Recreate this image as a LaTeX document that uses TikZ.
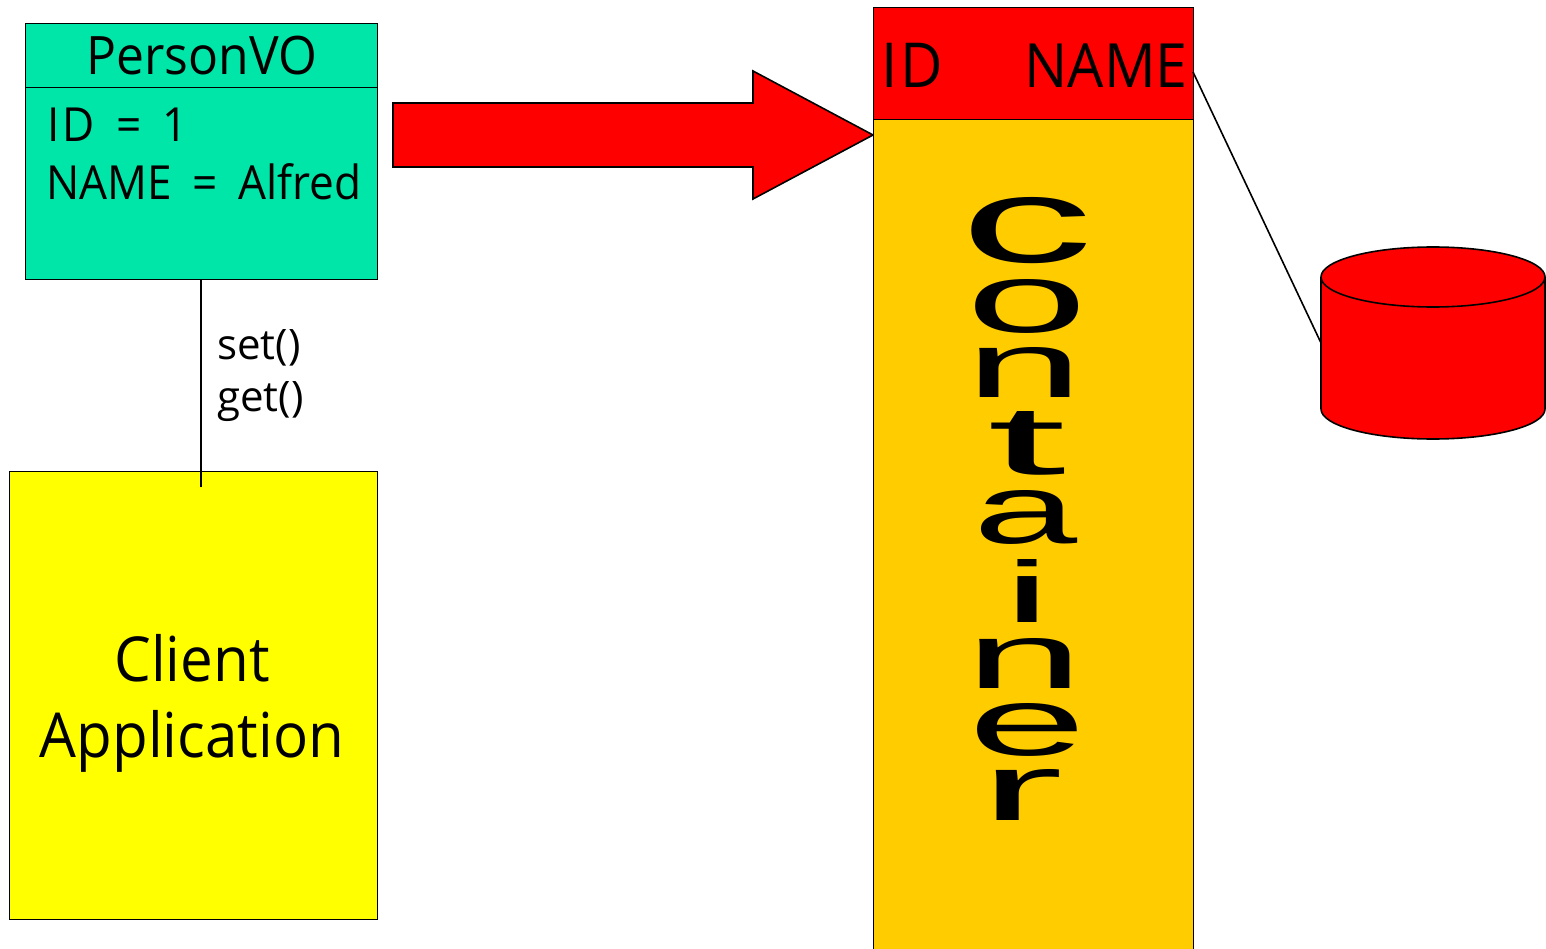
\documentclass[tikz,border=0pt]{standalone}
\usepackage{graphicx}
\usepackage{fontspec}
\setmainfont[FakeStretch=0.94]{Open Sans}
\newfontfamily\plainfont{Open Sans}
\newfontfamily\letterfont{Liberation Sans}
\definecolor{voteal}{RGB}{0,230,168}
\definecolor{contorange}{RGB}{255,204,0}
\definecolor{pureyellow}{RGB}{255,255,0}
\definecolor{purered}{RGB}{255,0,0}
\tikzset{
  x=1pt,y=-1pt,
  boxn/.style={draw=black,line width=1.6pt,inner sep=0pt,anchor=north west},
  lbl/.style={inner sep=0pt,anchor=base west,text=black},
  wire/.style={draw=black,line width=1.6pt},
  glyph/.style={inner sep=0pt,anchor=north west}
}
\newcommand{\bigletter}[6]{\node[glyph] (#1) at (#3,#4) {\resizebox{#5pt}{#6pt}{\letterfont #2}};}
\begin{document}
\begin{tikzpicture}
\useasboundingbox (0,0) rectangle (1546,949);
% Client
\node[boxn,fill=pureyellow,minimum width=368pt,minimum height=448pt] (client) at (8.7,470.7) {};
\node[lbl,anchor=base,font=\fontsize{62}{62}\selectfont] (cl1) at (192,681) {Client};
\node[lbl,anchor=base,font=\fontsize{62}{62}\selectfont] (cl2) at (192,757) {Application};
% PersonVO
\node[boxn,fill=voteal,minimum width=352pt,minimum height=64pt] (votitle) at (24.7,22.7) {};
\node[boxn,fill=voteal,minimum width=352pt,minimum height=192pt] (vobody) at (24.7,86.7) {};
\node[lbl,anchor=base,font=\fontsize{53}{53}\selectfont] (votext) at (202,75) {PersonVO};
\node[lbl,font=\fontsize{47}{47}\selectfont] (void) at (47,142) {I\hspace{3pt}D\hspace{10pt} = \hspace{10pt}1};
\node[lbl,font=\fontsize{47}{47}\selectfont] (voname) at (46,200) {NAME\hspace{9pt} = \hspace{9pt}Alfred};
\coordinate (clienttop) at (201,487);
\draw[wire] (vobody.south -| clienttop) -- (clienttop);
\node[lbl,font=\plainfont\fontsize{42}{42}\selectfont] (setl) at (217,359) {set()};
\node[lbl,font=\plainfont\fontsize{42}{42}\selectfont] (getl) at (217,411) {get()};
% Arrow
\draw[wire,fill=purered] (393,103) -- (753,103) -- (753,71) -- (873,135) -- (753,199) -- (753,167) -- (393,167) -- cycle;
% Container
\node[boxn,fill=contorange,minimum width=320pt,minimum height=835pt] (cont) at (872.7,118.7) {};
\node[boxn,fill=purered,minimum width=320pt,minimum height=112pt] (hdr) at (872.7,6.7) {};
\node[lbl,font=\fontsize{62}{62}\selectfont] (hid) at (881,88) {I\hspace{3pt}D};
\node[lbl,anchor=base east,font=\fontsize{61}{61}\selectfont] (hname) at (1188,88) {NAME};
\bigletter{l1}{c}{960}{197}{133}{65}
\bigletter{l2}{o}{966}{279}{121}{53}
\bigletter{l3}{n}{965}{347}{118}{50}
\bigletter{l4}{t}{987}{411}{79}{63}
\bigletter{l5}{a}{973}{490}{104}{53}
\bigletter{l6}{i}{1003}{559}{48}{63}
\bigletter{l7}{n}{965}{638}{118}{50}
\bigletter{l8}{e}{968}{703}{118}{52}
\bigletter{l9}{r}{979}{769}{84}{51}
% Cylinder
\path[fill=purered] (1321,277) -- (1321,409) arc[x radius=112,y radius=-30,start angle=180,end angle=360] -- (1545,277) -- cycle;
\draw[wire] (1321,277) -- (1321,409) arc[x radius=112,y radius=-30,start angle=180,end angle=360] -- (1545,277);
\draw[wire,fill=purered] (1433,277) ellipse[x radius=112,y radius=30];
\coordinate (cylleft) at (1321,343);
\coordinate (hdrright) at (1193,72);
\draw[wire] (hdrright) -- (cylleft);
\end{tikzpicture}
\end{document}
